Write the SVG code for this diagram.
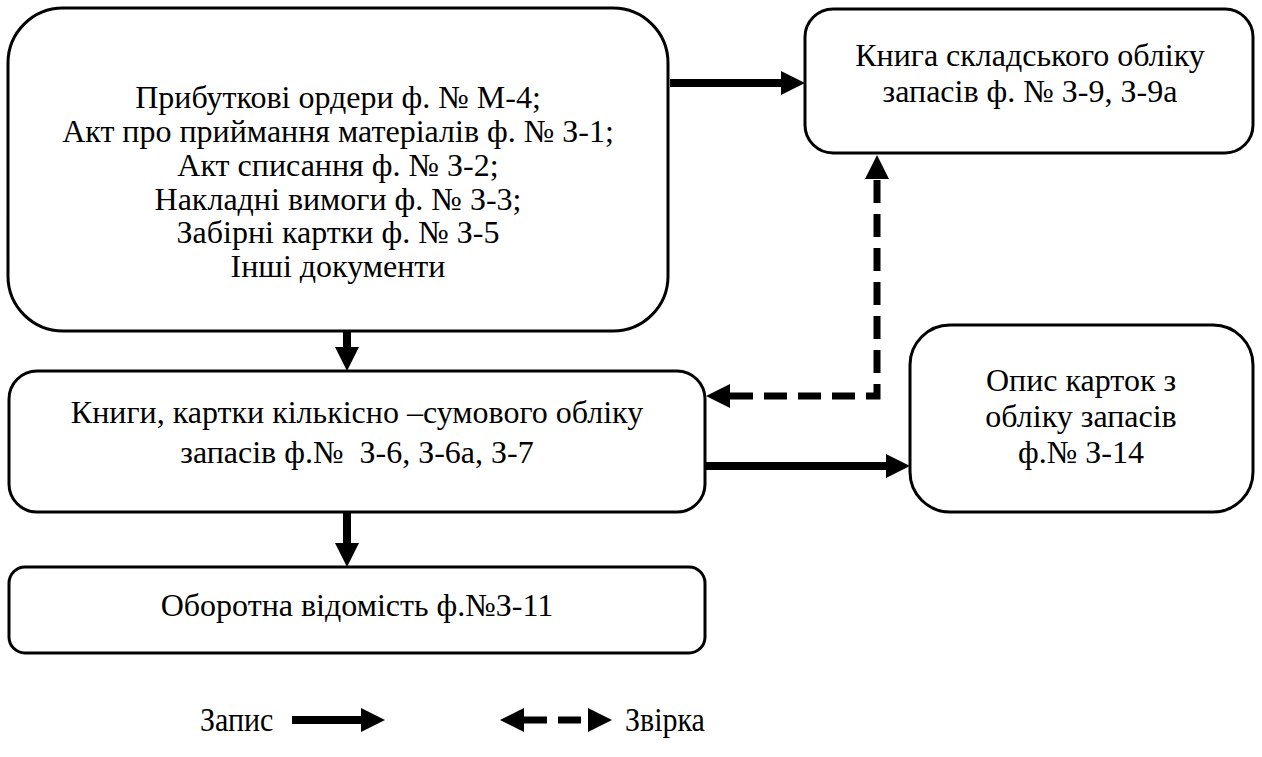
<svg xmlns="http://www.w3.org/2000/svg" width="1262" height="757" viewBox="0 0 1262 757">
<style>
.box{fill:#fff;stroke:#000;stroke-width:3}
.t{font-family:"Liberation Serif","Tinos","DejaVu Serif","Noto Serif",serif;font-size:32px;fill:#000;text-anchor:middle}
.lg{font-family:"Liberation Serif","Tinos","DejaVu Serif","Noto Serif",serif;font-size:30px;fill:#000}
.s{fill:none;stroke:#000;stroke-width:8}
.d{fill:none;stroke:#000;stroke-width:7;stroke-dasharray:23 11}
</style>
<defs>
<marker id="ah" markerUnits="userSpaceOnUse" markerWidth="26" markerHeight="26" refX="0" refY="12" orient="auto-start-reverse" viewBox="0 0 26 24">
<path d="M0,0 L24,12 L0,24 z" fill="#000"/>
</marker>
</defs>
<rect width="1262" height="757" fill="#fff"/>
<g id="n1">
<rect class="box" x="8" y="8" width="660" height="323" rx="55"/>
<text class="t" x="338" y="108">Прибуткові ордери ф. № М-4;</text>
<text class="t" x="338" y="142">Акт про приймання матеріалів ф. № З-1;</text>
<text class="t" x="338" y="176">Акт списання ф. № З-2;</text>
<text class="t" x="338" y="210">Накладні вимоги ф. № З-3;</text>
<text class="t" x="338" y="243">Забірні картки ф. № З-5</text>
<text class="t" x="338" y="277">Інші документи</text>
</g>
<g id="n2">
<rect class="box" x="805" y="9" width="448" height="144" rx="28"/>
<text class="t" x="1030" y="66">Книга складського обліку</text>
<text class="t" x="1030" y="102">запасів ф. № З-9, З-9а</text>
</g>
<g id="n3">
<rect class="box" x="9" y="371" width="696" height="141" rx="28"/>
<text class="t" x="357" y="423">Книги, картки кількісно –сумового обліку</text>
<text class="t" x="357" y="463" xml:space="preserve">запасів ф.№  З-6, З-6а, З-7</text>
</g>
<g id="n4">
<rect class="box" x="910" y="325" width="343" height="187" rx="40"/>
<text class="t" x="1081" y="391">Опис карток з</text>
<text class="t" x="1081" y="427">обліку запасів</text>
<text class="t" x="1081" y="463">ф.№ З-14</text>
</g>
<g id="n5">
<rect class="box" x="9" y="567" width="696" height="86" rx="16"/>
<text class="t" x="357" y="616">Оборотна відомість ф.№З-11</text>
</g>
<g id="connectors">
<path class="s" d="M670 83 H781" marker-end="url(#ah)"/>
<path class="s" d="M347 331 V347" marker-end="url(#ah)"/>
<path class="s" d="M347 512 V543" marker-end="url(#ah)"/>
<path class="s" d="M705 466 H886" marker-end="url(#ah)"/>
<path class="d" d="M730 396 H877 V179" marker-start="url(#ah)" marker-end="url(#ah)"/>
</g>
<g id="legend">
<text class="lg" transform="translate(200,731) scale(1,1.15)">Запис</text>
<path class="s" d="M292 720 H361" marker-end="url(#ah)"/>
<path class="d" d="M524 720 H588" marker-start="url(#ah)" marker-end="url(#ah)"/>
<text class="lg" transform="translate(625,731) scale(1,1.15)">Звірка</text>
</g>
</svg>
